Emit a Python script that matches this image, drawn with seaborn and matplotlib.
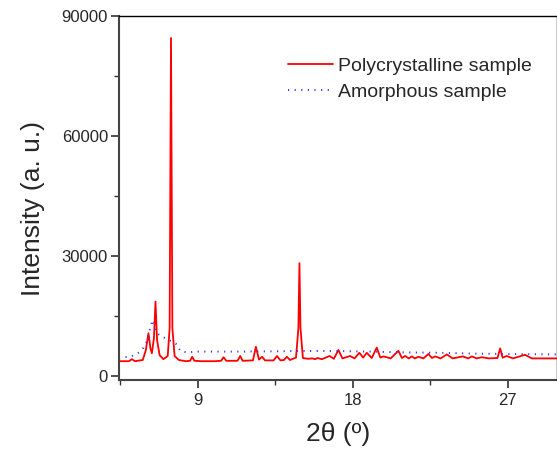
import numpy as np
import matplotlib
matplotlib.use("Agg")
import matplotlib.pyplot as plt
import seaborn as sns
import pandas as pd

# Polycrystalline sample (2theta, intensity)
poly_2theta = [4.42, 5.0, 5.17, 5.35, 5.8, 5.98, 6.13, 6.25, 6.33, 6.45, 6.54, 6.63, 6.78, 7.0,
               7.25, 7.36, 7.44, 7.52, 7.65, 7.9, 8.3, 8.55, 8.67, 8.8, 9.2, 10.0, 10.35, 10.49,
               10.65, 11.3, 11.46, 11.6, 12.2, 12.37, 12.55, 12.73, 12.9, 13.4, 13.59, 13.8, 14.0,
               14.17, 14.35, 14.7, 14.84, 14.9, 14.96, 15.1, 15.4, 15.66, 15.8, 15.95, 16.2, 16.65,
               16.9, 17.16, 17.4, 17.84, 18.1, 18.38, 18.6, 18.81, 19.1, 19.39, 19.6, 19.78, 20.2,
               20.65, 20.85, 21.04, 21.25, 21.43, 21.6, 21.81, 22.1, 22.39, 22.6, 22.78, 23.1, 23.46,
               23.8, 24.39, 24.7, 24.91, 25.2, 25.5, 25.9, 26.4, 26.56, 26.7, 26.94, 27.3, 28.0,
               28.4, 29.0, 29.83]
poly_intensity = [3700, 3700, 4200, 3700, 4000, 6500, 10700, 6800, 5700, 9500, 18600, 9000, 5200, 4200,
                  5000, 12000, 84500, 12000, 5000, 4000, 3700, 3800, 4800, 3800, 3700, 3700, 3800, 4700,
                  3800, 3800, 5000, 3800, 3900, 7300, 4100, 4800, 3900, 3900, 5000, 3900, 4000,
                  4800, 4000, 4600, 12000, 28200, 12000, 4500, 4300, 4400, 4200, 4500, 4200, 5000,
                  4300, 6500, 4400, 5000, 4400, 5800, 4600, 5800, 4500, 7100, 4600, 4900, 4400,
                  6300, 4500, 5000, 4400, 4900, 4400, 4800, 4400, 5500, 4500, 4900, 4400, 5400,
                  4400, 4900, 4400, 4900, 4400, 4700, 4400, 4500, 6900, 4600, 5000, 4400, 5300,
                  4400, 4400, 4400]

# Amorphous sample (2theta, intensity)
amor_2theta = [4.42, 4.78, 5.17, 5.55, 5.8, 6.04, 6.23, 6.36, 6.48, 6.56, 6.81, 7.2, 7.49, 7.78,
               7.97, 8.36, 9.0, 11.0, 13.0, 15.0, 17.0, 19.0, 21.0, 23.0, 25.0, 27.0, 29.83]
amor_intensity = [4400, 4700, 4960, 5800, 6800, 8600, 11900, 14000, 12500, 10900, 10100, 9250, 8600,
                  7900, 6300, 5900, 6100, 6100, 6150, 6250, 6250, 6100, 5900, 5800, 5600, 5500, 5400]

ytick_vals = [0, 30000, 60000, 90000]
xtick_vals = [9, 18, 27]

poly = pd.DataFrame({"x": poly_2theta, "y": poly_intensity})
amor = pd.DataFrame({"x": amor_2theta, "y": amor_intensity})

sns.set_style("ticks")
plt.rcParams["font.family"] = ["Liberation Sans", "DejaVu Sans"]

fig = plt.figure(figsize=(5.57, 4.49), dpi=100)
ax = fig.add_axes([119 / 557, 69 / 449, 437.5 / 557, 364 / 449])

sns.lineplot(data=poly, x="x", y="y", ax=ax, color="red", lw=1.3,
             label="Polycrystalline sample", sort=False)
sns.lineplot(data=amor, x="x", y="y", ax=ax, color="#3333ff", lw=1.4,
             linestyle=(0, (0.6, 2.8)), label="Amorphous sample", sort=False)

ax.set_xlim(4.42, 29.83)
ax.set_ylim(-1000, 90000)
ax.set_xticks(xtick_vals)
ax.set_xticks([4.5, 13.5, 22.5], minor=True)
ax.set_yticks(ytick_vals)
ax.set_yticks([15000, 45000, 75000], minor=True)
ax.tick_params(axis="both", which="major", labelsize=12, length=6, width=1.2, color="#333333")
ax.tick_params(axis="both", which="minor", length=3.5, width=1.0, color="#333333")
ax.tick_params(axis="y", pad=2)

for side in ["left", "bottom"]:
    ax.spines[side].set_color("#444444")
    ax.spines[side].set_linewidth(1.5)
for side in ["top", "right"]:
    ax.spines[side].set_color("black")
    ax.spines[side].set_linewidth(1.0)

ax.set_xlabel("2\u03b8 (\u00ba)", fontsize=19, labelpad=10)
ax.set_ylabel("Intensity (a. u.)", fontsize=19, labelpad=10)
ax.yaxis.set_label_coords(-0.168, 0.47)

leg = ax.legend(loc="upper left", bbox_to_anchor=(0.368, 0.908), frameon=False, fontsize=14,
                handlelength=2.3, handletextpad=0.3, labelspacing=0.42, borderaxespad=0)

fig.savefig("out.png", dpi=100)
